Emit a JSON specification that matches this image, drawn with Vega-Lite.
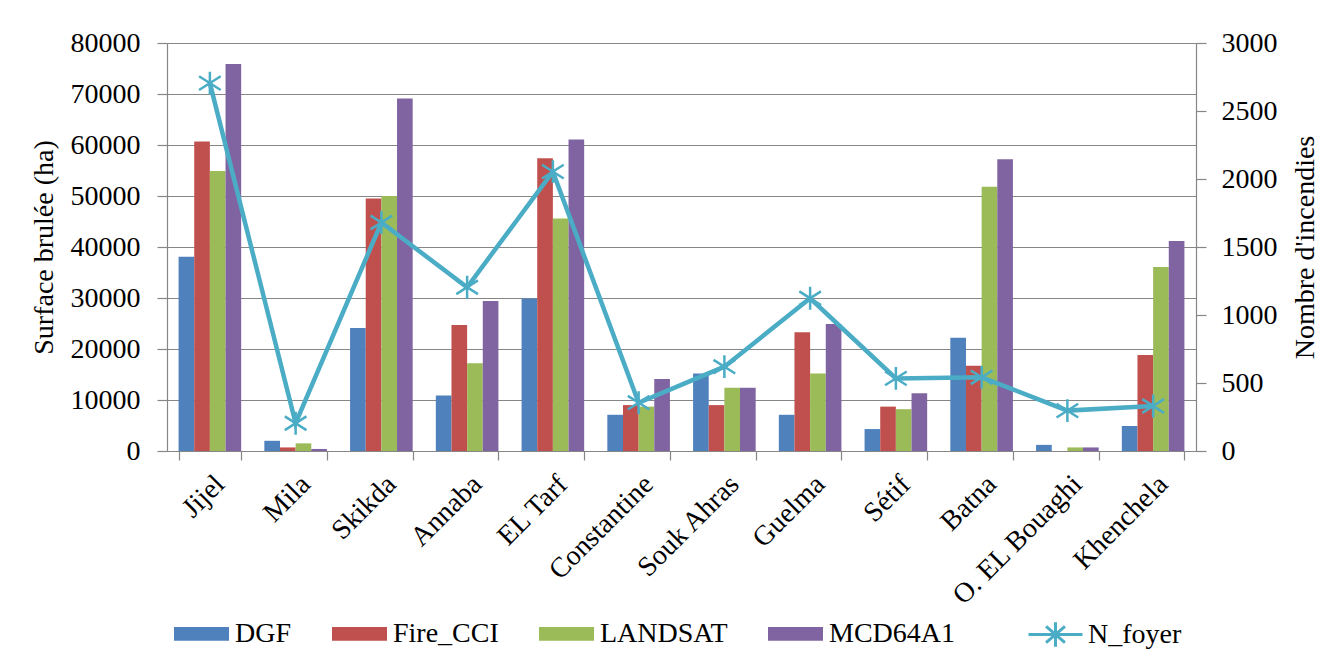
{
  "$schema": "https://vega.github.io/schema/vega-lite/v6.json",
  "width": 1029,
  "height": 408,
  "autosize": {"type": "none"},
  "padding": {"left": 167, "top": 43, "right": 134, "bottom": 221},
  "background": "white",
  "config": {
    "font": "Liberation Serif",
    "view": {"stroke": null},
    "axis": {
      "labelFont": "Liberation Serif",
      "titleFont": "Liberation Serif",
      "labelFontSize": 28,
      "titleFontSize": 28,
      "labelColor": "#000000",
      "titleColor": "#000000",
      "titleFontWeight": "normal",
      "domainColor": "#868686",
      "tickColor": "#868686",
      "gridColor": "#868686",
      "domainWidth": 1.2,
      "tickWidth": 1.2,
      "gridWidth": 1.2
    },
    "legend": {
      "labelFont": "Liberation Serif",
      "labelFontSize": 28,
      "labelColor": "#000000"
    }
  },
  "datasets": {
    "bars": [
      {"region": "Jijel", "source": "DGF", "value": 38100},
      {"region": "Jijel", "source": "Fire_CCI", "value": 60700},
      {"region": "Jijel", "source": "LANDSAT", "value": 54900},
      {"region": "Jijel", "source": "MCD64A1", "value": 75900},
      {"region": "Mila", "source": "DGF", "value": 2000},
      {"region": "Mila", "source": "Fire_CCI", "value": 700},
      {"region": "Mila", "source": "LANDSAT", "value": 1500},
      {"region": "Mila", "source": "MCD64A1", "value": 400},
      {"region": "Skikda", "source": "DGF", "value": 24100},
      {"region": "Skikda", "source": "Fire_CCI", "value": 49500},
      {"region": "Skikda", "source": "LANDSAT", "value": 50000},
      {"region": "Skikda", "source": "MCD64A1", "value": 69100},
      {"region": "Annaba", "source": "DGF", "value": 10900},
      {"region": "Annaba", "source": "Fire_CCI", "value": 24700},
      {"region": "Annaba", "source": "LANDSAT", "value": 17200},
      {"region": "Annaba", "source": "MCD64A1", "value": 29400},
      {"region": "EL Tarf", "source": "DGF", "value": 29900},
      {"region": "EL Tarf", "source": "Fire_CCI", "value": 57400},
      {"region": "EL Tarf", "source": "LANDSAT", "value": 45600},
      {"region": "EL Tarf", "source": "MCD64A1", "value": 61100},
      {"region": "Constantine", "source": "DGF", "value": 7100},
      {"region": "Constantine", "source": "Fire_CCI", "value": 9000},
      {"region": "Constantine", "source": "LANDSAT", "value": 8700},
      {"region": "Constantine", "source": "MCD64A1", "value": 14100},
      {"region": "Souk Ahras", "source": "DGF", "value": 15200},
      {"region": "Souk Ahras", "source": "Fire_CCI", "value": 9000},
      {"region": "Souk Ahras", "source": "LANDSAT", "value": 12400},
      {"region": "Souk Ahras", "source": "MCD64A1", "value": 12400},
      {"region": "Guelma", "source": "DGF", "value": 7100},
      {"region": "Guelma", "source": "Fire_CCI", "value": 23300},
      {"region": "Guelma", "source": "LANDSAT", "value": 15200},
      {"region": "Guelma", "source": "MCD64A1", "value": 24900},
      {"region": "Sétif", "source": "DGF", "value": 4300},
      {"region": "Sétif", "source": "Fire_CCI", "value": 8700},
      {"region": "Sétif", "source": "LANDSAT", "value": 8200},
      {"region": "Sétif", "source": "MCD64A1", "value": 11300},
      {"region": "Batna", "source": "DGF", "value": 22200},
      {"region": "Batna", "source": "Fire_CCI", "value": 16700},
      {"region": "Batna", "source": "LANDSAT", "value": 51800},
      {"region": "Batna", "source": "MCD64A1", "value": 57200},
      {"region": "O. EL Bouaghi", "source": "DGF", "value": 1200},
      {"region": "O. EL Bouaghi", "source": "Fire_CCI", "value": 0},
      {"region": "O. EL Bouaghi", "source": "LANDSAT", "value": 700},
      {"region": "O. EL Bouaghi", "source": "MCD64A1", "value": 700},
      {"region": "Khenchela", "source": "DGF", "value": 4900},
      {"region": "Khenchela", "source": "Fire_CCI", "value": 18800},
      {"region": "Khenchela", "source": "LANDSAT", "value": 36100},
      {"region": "Khenchela", "source": "MCD64A1", "value": 41200}
    ],
    "foyer": [
      {"region": "Jijel", "n_foyer": 2705},
      {"region": "Mila", "n_foyer": 204},
      {"region": "Skikda", "n_foyer": 1680},
      {"region": "Annaba", "n_foyer": 1204},
      {"region": "EL Tarf", "n_foyer": 2054},
      {"region": "Constantine", "n_foyer": 355},
      {"region": "Souk Ahras", "n_foyer": 620},
      {"region": "Guelma", "n_foyer": 1123},
      {"region": "Sétif", "n_foyer": 534},
      {"region": "Batna", "n_foyer": 542},
      {"region": "O. EL Bouaghi", "n_foyer": 297},
      {"region": "Khenchela", "n_foyer": 331}
    ]
  },
  "encoding": {
    "x": {
      "field": "region",
      "type": "nominal",
      "sort": null,
      "scale": {"paddingInner": 0.27, "paddingOuter": 0.135},
      "axis": {
        "title": null,
        "labelAngle": -45,
        "tickBand": "extent",
        "tickSize": 9,
        "labelPadding": 10,
        "grid": false
      }
    }
  },
  "layer": [
    {
      "data": {"name": "bars"},
      "mark": {"type": "bar"},
      "encoding": {
        "xOffset": {"field": "source", "type": "nominal", "scale": {"paddingInner": 0, "paddingOuter": 0}},
        "y": {
          "field": "value",
          "type": "quantitative",
          "scale": {"domain": [0, 80000], "nice": false},
          "axis": {
            "title": "Surface brulée (ha)",
            "values": [0, 10000, 20000, 30000, 40000, 50000, 60000, 70000, 80000],
            "format": "d",
            "grid": true,
            "tickSize": 10,
            "labelPadding": 17,
            "titlePadding": 12
          }
        },
        "color": {
          "field": "source",
          "type": "nominal",
          "scale": {
            "domain": ["DGF", "Fire_CCI", "LANDSAT", "MCD64A1"],
            "range": ["#4F81BD", "#C0504D", "#9BBB59", "#8064A2"]
          },
          "legend": {
            "title": null,
            "orient": "none",
            "direction": "horizontal",
            "legendX": 7,
            "legendY": 563,
            "symbolType": "M-1,-0.25H1V0.25H-1Z",
            "symbolSize": 3025,
            "symbolStrokeWidth": 0,
            "symbolOpacity": 1,
            "columnPadding": 40,
            "labelOffset": 6
          }
        }
      }
    },
    {
      "data": {"name": "foyer"},
      "encoding": {
        "y": {
          "field": "n_foyer",
          "type": "quantitative",
          "scale": {"domain": [0, 3000], "nice": false},
          "axis": {
            "orient": "right",
            "title": "Nombre d'incendies",
            "titleAngle": 270,
            "titleBaseline": "top",
            "values": [0, 500, 1000, 1500, 2000, 2500, 3000],
            "format": "d",
            "grid": false,
            "tickSize": 10,
            "labelPadding": 15,
            "titlePadding": 14
          }
        }
      },
      "layer": [
        {
          "mark": {"type": "line", "strokeWidth": 4.5},
          "encoding": {
            "stroke": {
              "datum": "N_foyer",
              "type": "nominal",
              "scale": {"domain": ["N_foyer"], "range": ["#4BACC6"]},
              "legend": {
                "title": null,
                "orient": "none",
                "legendX": 860,
                "legendY": 563,
                "symbolType": "M-1,0H1M0,-0.45V0.45M-0.35,-0.3L0.35,0.3M-0.35,0.3L0.35,-0.3",
                "symbolSize": 2916,
                "symbolStrokeWidth": 3,
                "labelOffset": 4
              }
            }
          }
        },
        {
          "mark": {
            "type": "point",
            "shape": "M0,-1V1M-0.95,-0.6L0.95,0.6M-0.95,0.6L0.95,-0.6",
            "filled": false,
            "stroke": "#4BACC6",
            "strokeWidth": 2.5,
            "size": 520,
            "opacity": 1
          }
        }
      ]
    }
  ],
  "resolve": {"scale": {"y": "independent"}}
}
